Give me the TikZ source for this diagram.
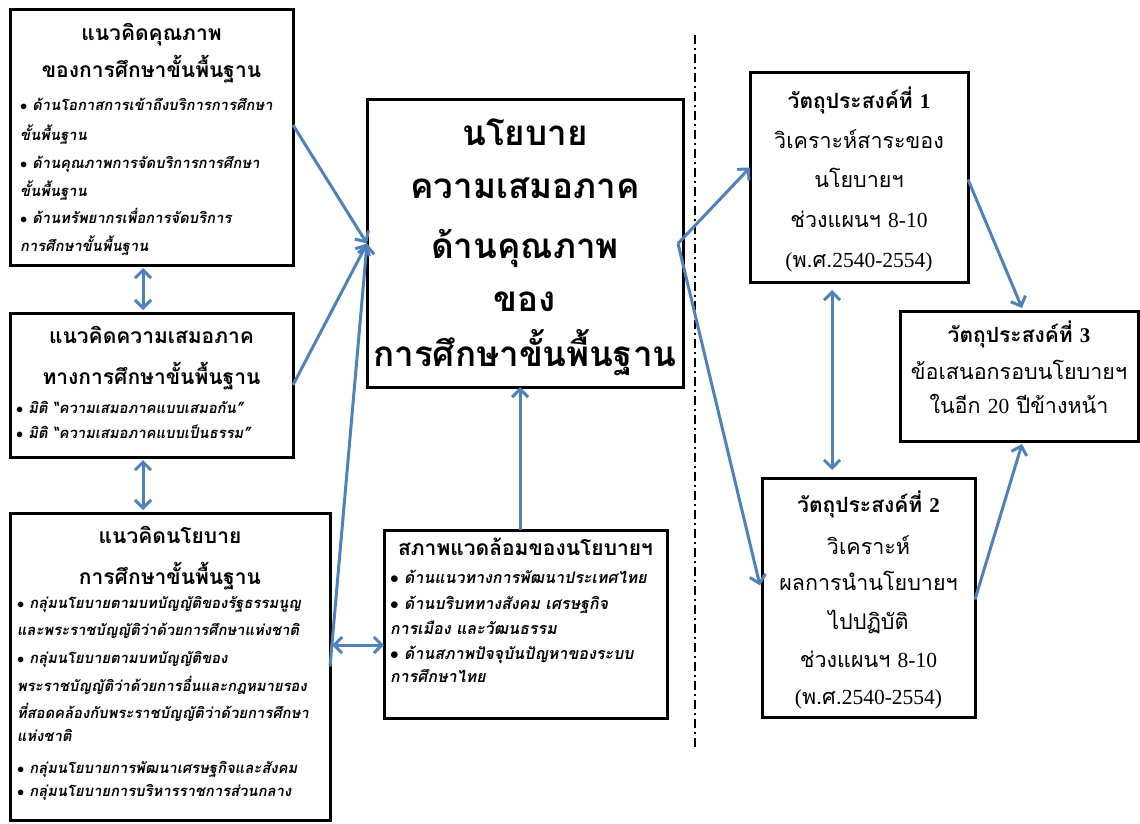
\documentclass[tikz,border=0pt]{standalone}
\usepackage{fontspec}
\usetikzlibrary{arrows.meta,calc}
\newfontfamily\thai[Script=Thai]{Loma}
\newfontfamily\thaisl[Script=Thai,FakeSlant=0.18]{Loma}
\newfontfamily\lat{Liberation Serif}
\newcommand\myttl{\thai\bfseries\fontsize{21}{21}\selectfont}
\newcommand\mybd{\thaisl\bfseries\fontsize{14.8}{14.8}\selectfont}
\newcommand\myenv{\thaisl\bfseries\fontsize{16}{16}\selectfont}
\newcommand\mycen{\thai\bfseries\fontsize{35}{35}\selectfont}
\newcommand\myobt{\thai\bfseries\fontsize{21}{21}\selectfont}
\newcommand\myobb{\thai\fontsize{21.5}{21.5}\selectfont}
\newcommand\mybul{$\bullet$\ }
\definecolor{arrblue}{RGB}{79,129,189}
\tikzset{
  box/.style={draw, line width=3pt, inner sep=0pt, outer sep=0pt},
  tl/.style={anchor=base, inner sep=0pt, font=\myttl},
  bd/.style={anchor=base west, inner sep=0pt, font=\mybd},
  ebd/.style={anchor=base west, inner sep=0pt, font=\myenv},
  ct/.style={anchor=base, inner sep=0pt, font=\mycen},
  obt/.style={anchor=base, inner sep=0pt, font=\myobt},
  obb/.style={anchor=base, inner sep=0pt, font=\myobb},
  arr/.style={draw=arrblue, line width=3pt, -{Straight Barb[length=8pt,width=16pt]}},
  darr/.style={draw=arrblue, line width=3pt, {Straight Barb[length=8pt,width=16pt]}-{Straight Barb[length=8pt,width=16pt]}},
  dd/.style={draw=black, line width=1.5pt, dash pattern=on 9pt off 4pt on 2pt off 4pt}
}
\begin{document}
\begin{tikzpicture}[x=1pt,y=-1pt]
\useasboundingbox (0,0) rectangle (1140,824);
% boxes
\node[box, minimum width=283pt, minimum height=255pt] (b1) at (151.5,137.5) {};
\node[box, minimum width=283pt, minimum height=144pt] (b2) at (151.5,385) {};
\node[box, minimum width=320pt, minimum height=307pt] (b3) at (170,666.5) {};
\node[box, minimum width=316pt, minimum height=287pt] (cen) at (525,243.5) {};
\node[box, minimum width=283pt, minimum height=188pt] (env) at (525.5,624) {};
\node[box, minimum width=218pt, minimum height=209pt] (o1) at (859,177.5) {};
\node[box, minimum width=213pt, minimum height=239pt] (o2) at (868.5,597.5) {};
\node[box, minimum width=238pt, minimum height=130pt] (o3) at (1019,376) {};
% box 1
\node[tl] (b1t1) at (151.5,41) {แนวคิดคุณภาพ};
\node[tl] (b1t2) at (151.5,78) {ของการศึกษาขั้นพื้นฐาน};
\node[bd] (b1l1) at (20,111) {\mybul ด้านโอกาสการเข้าถึงบริการการศึกษา};
\node[bd] (b1l2) at (20,140) {ขั้นพื้นฐาน};
\node[bd] (b1l3) at (20,168) {\mybul ด้านคุณภาพการจัดบริการการศึกษา};
\node[bd] (b1l4) at (20,196) {ขั้นพื้นฐาน};
\node[bd] (b1l5) at (20,223) {\mybul ด้านทรัพยากรเพื่อการจัดบริการ};
\node[bd] (b1l6) at (20,251) {การศึกษาขั้นพื้นฐาน};
% box 2
\node[tl] (b2t1) at (151.5,343) {แนวคิดความเสมอภาค};
\node[tl] (b2t2) at (151.5,384) {ทางการศึกษาขั้นพื้นฐาน};
\node[bd] (b2l1) at (16,413) {\mybul มิติ “ความเสมอภาคแบบเสมอกัน”};
\node[bd] (b2l2) at (16,438) {\mybul มิติ “ความเสมอภาคแบบเป็นธรรม”};
% box 3
\node[tl] (b3t1) at (170,543) {แนวคิดนโยบาย};
\node[tl] (b3t2) at (170,584) {การศึกษาขั้นพื้นฐาน};
\node[bd] (b3l1) at (17,608) {\mybul กลุ่มนโยบายตามบทบัญญัติของรัฐธรรมนูญ};
\node[bd] (b3l2) at (17,635) {และพระราชบัญญัติว่าด้วยการศึกษาแห่งชาติ};
\node[bd] (b3l3) at (17,663) {\mybul กลุ่มนโยบายตามบทบัญญัติของ};
\node[bd] (b3l4) at (17,691) {พระราชบัญญัติว่าด้วยการอื่นและกฎหมายรอง};
\node[bd] (b3l5) at (17,718) {ที่สอดคล้องกับพระราชบัญญัติว่าด้วยการศึกษา};
\node[bd] (b3l6) at (17,741) {แห่งชาติ};
\node[bd] (b3l7) at (17,773) {\mybul กลุ่มนโยบายการพัฒนาเศรษฐกิจและสังคม};
\node[bd] (b3l8) at (17,796) {\mybul กลุ่มนโยบายการบริหารราชการส่วนกลาง};
% centre
\node[ct] (c1) at (525,146) {นโยบาย};
\node[ct] (c2) at (525,198) {ความเสมอภาค};
\node[ct] (c3) at (525,258) {ด้านคุณภาพ};
\node[ct] (c4) at (525,311) {ของ};
\node[ct] (c5) at (525,366) {การศึกษาขั้นพื้นฐาน};
% environment
\node[tl] (e0) at (525.5,555) {สภาพแวดล้อมของนโยบายฯ};
\node[ebd] (e1) at (390,583) {\mybul ด้านแนวทางการพัฒนาประเทศไทย};
\node[ebd] (e2) at (390,609) {\mybul ด้านบริบททางสังคม เศรษฐกิจ};
\node[ebd] (e3) at (390,634) {การเมือง และวัฒนธรรม};
\node[ebd] (e4) at (390,659) {\mybul ด้านสภาพปัจจุบันปัญหาของระบบ};
\node[ebd] (e5) at (390,682) {การศึกษาไทย};
% objective 1
\node[obt] (o1a) at (859,109) {วัตถุประสงค์ที่ {\lat 1}};
\node[obb] (o1b) at (859,149) {วิเคราะห์สาระของ};
\node[obb] (o1c) at (859,187) {นโยบายฯ};
\node[obb] (o1d) at (859,227) {ช่วงแผนฯ {\lat 8-10}};
\node[obb] (o1e) at (859,267) {{\lat (}พ.ศ.{\lat 2540-2554)}};
% objective 2
\node[obt] (o2a) at (868.5,512) {วัตถุประสงค์ที่ {\lat 2}};
\node[obb] (o2b) at (868.5,554) {วิเคราะห์};
\node[obb] (o2c) at (868.5,590) {ผลการนำนโยบายฯ};
\node[obb] (o2d) at (868.5,629) {ไปปฏิบัติ};
\node[obb] (o2e) at (868.5,667) {ช่วงแผนฯ {\lat 8-10}};
\node[obb] (o2f) at (868.5,704) {{\lat (}พ.ศ.{\lat 2540-2554)}};
% objective 3
\node[obt] (o3a) at (1019,342) {วัตถุประสงค์ที่ {\lat 3}};
\node[obb] (o3b) at (1019,379) {ข้อเสนอกรอบนโยบายฯ};
\node[obb] (o3c) at (1019,413) {ในอีก {\lat 20} ปีข้างหน้า};
% dash-dot divider
\coordinate (dtop) at (695,35);
\coordinate (dbot) at (695,750);
\draw[dd] (dtop) -- (dbot);
% connectors
\draw[arr] ($(b1.north east)+(0,115)$) -- (cen.west);
\draw[arr] (b2.east) -- (cen.west);
\draw[arr] (b3.east) -- (cen.west);
\draw[darr, shorten <=3pt, shorten >=3pt] ($(b1.south)+(-8.5,0)$) -- ($(b2.north)+(-8.5,0)$);
\draw[darr, shorten <=3pt, shorten >=3pt] ($(b2.south)+(-8.5,0)$) -- ($(b3.north)+(-27,0)$);
\draw[darr, shorten <=2pt] ($(b3.east)+(0,-21.5)$) -- ($(env.west)+(0,21)$);
\draw[arr] ($(env.north)+(-5.5,0)$) -- ($(cen.south)+(-5,0)$);
\draw[arr] ($(cen.east)+(-5,0)$) -- ($(o1.west)+(0,-10)$);
\draw[arr] ($(cen.east)+(-5,0)$) -- ($(o2.west)+(-2,-12)$);
\draw[arr] ($(o1.east)+(0,2)$) -- ($(o3.north)+(3,-3)$);
\draw[arr] ($(o2.east)+(0,2)$) -- ($(o3.south)+(3,3)$);
\draw[darr] ($(o1.south)+(-27,8)$) -- ($(o2.north)+(-36.5,-8)$);
\end{tikzpicture}
\end{document}
